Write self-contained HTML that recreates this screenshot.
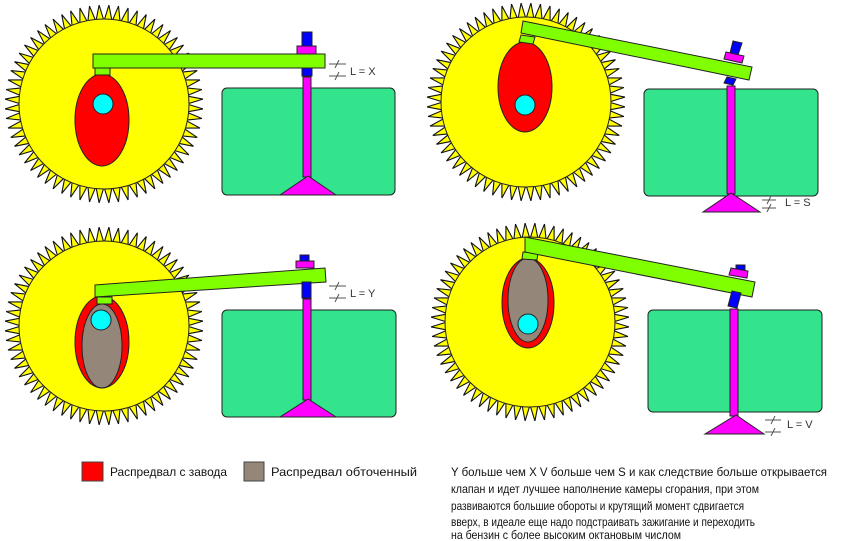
<!DOCTYPE html>
<html><head><meta charset="utf-8"><style>
html,body{margin:0;padding:0;background:#fff;}
svg{display:block;}
text{font-family:"Liberation Sans",sans-serif;}
</style></head><body>
<svg id="s" width="850" height="541" viewBox="0 0 850 541" xmlns="http://www.w3.org/2000/svg">
<g id="gears"></g>
<g stroke="#222" stroke-width="1">
<rect x="222" y="88" width="173" height="107" rx="5" fill="#33e48c"/>
<ellipse cx="102" cy="120" rx="27" ry="46" fill="#ff0000"/>
<circle cx="103" cy="104" r="10" fill="#00ffff"/>
<rect x="95" y="67" width="15" height="8" fill="#80ff00"/>
<rect x="93" y="54" width="232" height="14" fill="#80ff00"/>
<rect x="302" y="32" width="10" height="14" fill="#0000ff"/>
<rect x="297" y="46" width="19" height="8" fill="#ff00ff"/>
<rect x="302" y="68" width="10" height="8" fill="#0000ff"/>
<rect x="303" y="77" width="8" height="100" fill="#ff00ff"/>
<polygon points="308,176 280,195 336,195" fill="#ff00ff"/>

<rect x="644" y="89" width="174" height="107" rx="5" fill="#33e48c"/>
<ellipse cx="525" cy="87" rx="27" ry="45" fill="#ff0000"/>
<circle cx="525" cy="105" r="10" fill="#00ffff"/>
<polygon points="521,35 535,37 533,44 519,42" fill="#80ff00"/>
<polygon points="523,21 752,67 749,80 521,33" fill="#80ff00"/>
<polygon points="733,41 742,43 738,55 730,53" fill="#0000ff"/>
<polygon points="726,52 744,56 742,63 724,59" fill="#ff00ff"/>
<polygon points="727,77 736,79 733,85 724,83" fill="#0000ff"/>
<rect x="727" y="86" width="8" height="108" fill="#ff00ff"/>
<polygon points="731,193 703,212 760,212" fill="#ff00ff"/>

<rect x="222" y="310" width="174" height="107" rx="5" fill="#33e48c"/>
<ellipse cx="102" cy="342" rx="27" ry="46" fill="#ff0000"/>
<ellipse cx="102" cy="346" rx="20" ry="42" fill="#948678"/>
<circle cx="101" cy="320" r="10" fill="#00ffff"/>
<rect x="97" y="297" width="15" height="7" fill="#80ff00"/>
<polygon points="95,285 325,268 326,282 95,297" fill="#80ff00"/>
<rect x="300" y="255" width="9" height="6" fill="#0000ff"/>
<rect x="296" y="261" width="18" height="7" fill="#ff00ff"/>
<rect x="302" y="282" width="9" height="16" fill="#0000ff"/>
<rect x="303" y="299" width="8" height="101" fill="#ff00ff"/>
<polygon points="308,399 280,417 336,417" fill="#ff00ff"/>

<rect x="648" y="310" width="174" height="102" rx="5" fill="#33e48c"/>
<ellipse cx="528" cy="303" rx="26" ry="45" fill="#ff0000"/>
<ellipse cx="528" cy="300" rx="20" ry="42" fill="#948678"/>
<circle cx="528" cy="324" r="10" fill="#00ffff"/>
<polygon points="523,252 538,253 537,260 522,259" fill="#80ff00"/>
<polygon points="525,237 755,282 752,297 525,252" fill="#80ff00"/>
<rect x="736" y="265" width="9" height="6" fill="#0000ff"/>
<polygon points="731,268 748,271 747,278 729,275" fill="#ff00ff"/>
<polygon points="732,291 741,293 737,308 728,306" fill="#0000ff"/>
<rect x="730" y="309" width="8" height="107" fill="#ff00ff"/>
<polygon points="736,415 705,434 764,434" fill="#ff00ff"/>
</g>

<g stroke="#555" stroke-width="1" fill="none">
<path d="M329,64H346M329,76H346M339,60L335,68M339,72L335,80"/>
<path d="M329,286H346M329,298H346M339,282L335,290M339,294L335,302"/>
<path d="M762,200H776M762,208H776M771,196L767,204M771,204L767,212"/>
<path d="M765,420H781M765,432H781M775,416L771,424M775,428L771,436"/>
</g>
<g font-size="11" fill="#333">
<text x="350" y="75">L = X</text>
<text x="350" y="297">L = Y</text>
<text x="785" y="206">L = S</text>
<text x="787" y="428">L = V</text>
</g>

<rect x="82" y="462" width="21" height="19" fill="#ff0000" stroke="#444" stroke-width="1"/>
<rect x="244" y="462" width="20" height="19" fill="#948678" stroke="#444" stroke-width="1"/>
<g font-size="12" fill="#111">
<text x="110" y="476" textLength="117" lengthAdjust="spacingAndGlyphs">Распредвал с завода</text>
<text x="271" y="476" textLength="146" lengthAdjust="spacingAndGlyphs">Распредвал обточенный</text>
<text x="451" y="476" textLength="376" lengthAdjust="spacingAndGlyphs">Y больше чем X    V больше чем S  и как следствие больше открывается</text>
<text x="451" y="493" textLength="308" lengthAdjust="spacingAndGlyphs">клапан и идет лучшее наполнение камеры сгорания, при этом</text>
<text x="451" y="510" textLength="293" lengthAdjust="spacingAndGlyphs">развиваются большие обороты и крутящий момент  сдвигается</text>
<text x="451" y="526" textLength="304" lengthAdjust="spacingAndGlyphs">вверх, в идеале еще надо подстраивать зажигание и переходить</text>
<text x="451" y="539" textLength="230" lengthAdjust="spacingAndGlyphs">на бензин с более высоким октановым числом</text>
</g>
</svg>
<script>
(function(){
var g=document.getElementById('gears');
var centers=[[104,104],[526,102],[104,326],[530,322]];
var N=64,r0=85,r1=99,ns='http://www.w3.org/2000/svg';
centers.forEach(function(c){
  var d='';
  for(var i=0;i<N;i++){
    var a0=2*Math.PI*i/N,a1=2*Math.PI*(i+0.5)/N,a2=2*Math.PI*(i+1)/N;
    var p=function(a,r){return (c[0]+r*Math.cos(a)).toFixed(1)+','+(c[1]+r*Math.sin(a)).toFixed(1);};
    d+='M'+p(a0,r0-2)+'L'+p(a1,r1)+'L'+p(a2,r0-2)+'Z';
  }
  var t=document.createElementNS(ns,'path');
  t.setAttribute('d',d);t.setAttribute('fill','#ffff00');t.setAttribute('stroke','#111');t.setAttribute('stroke-width','1.1');
  g.appendChild(t);
  var ci=document.createElementNS(ns,'circle');
  ci.setAttribute('cx',c[0]);ci.setAttribute('cy',c[1]);ci.setAttribute('r',r0);
  ci.setAttribute('fill','#ffff00');ci.setAttribute('stroke','#222');ci.setAttribute('stroke-width','1');
  g.appendChild(ci);
});
})();
</script>
</body></html>
